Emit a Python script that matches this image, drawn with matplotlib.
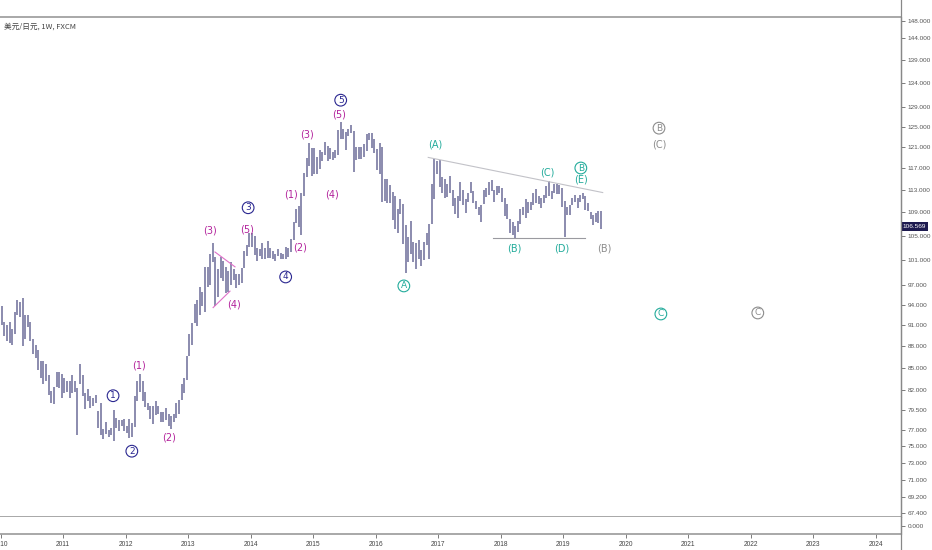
import numpy as np
import matplotlib
matplotlib.use("Agg")
import matplotlib.pyplot as plt
from matplotlib.ticker import FixedLocator, NullLocator, NullFormatter
from matplotlib.lines import Line2D
import matplotlib.transforms as mtransforms

# half-month bars (24 per year), lows / highs
lo_2010 = [91.0, 89.4, 88.8, 88.5, 88.1, 89.8, 92.5, 92.2, 88.0, 89.0, 90.8, 88.8,
           86.9, 86.3, 84.7, 83.6, 82.9, 83.2, 81.4, 80.4, 80.2, 82.5, 82.3, 81.0]
hi_2010 = [93.8, 91.5, 91.0, 91.5, 90.5, 93.0, 94.8, 94.5, 95.0, 92.5, 92.5, 91.5,
           89.0, 88.2, 87.5, 86.0, 85.9, 85.5, 84.0, 81.9, 82.5, 84.4, 84.5, 84.2]
lo_2011 = [81.6, 81.8, 81.0, 81.7, 81.8, 76.3, 82.8, 81.3, 79.6, 80.6, 79.7, 80.0,
           80.3, 77.2, 76.3, 75.9, 76.5, 76.1, 76.3, 75.6, 77.2, 76.8, 77.5, 76.8]
hi_2011 = [83.7, 83.3, 83.3, 84.0, 83.3, 82.3, 85.5, 84.0, 81.6, 82.2, 81.2, 81.0,
           81.4, 79.3, 80.3, 77.1, 77.9, 77.0, 77.2, 79.5, 78.4, 78.2, 78.2, 78.3]
lo_2012 = [76.6, 76.0, 76.1, 77.3, 80.6, 81.8, 80.6, 79.8, 79.5, 78.3, 77.7, 78.8,
           78.9, 77.9, 78.0, 78.2, 77.4, 77.1, 77.9, 78.4, 79.0, 80.7, 81.7, 83.4]
hi_2012 = [77.5, 78.3, 77.8, 81.2, 83.3, 84.2, 83.3, 81.8, 80.4, 80.0, 80.0, 80.6,
           80.0, 79.2, 79.2, 79.7, 79.0, 78.7, 78.9, 80.4, 80.8, 82.8, 83.6, 86.6]
lo_2013 = [86.6, 88.1, 91.3, 90.9, 92.5, 93.9, 92.9, 96.8, 97.0, 100.6, 93.8, 95.2,
           98.2, 97.6, 95.8, 96.0, 97.0, 97.8, 96.6, 97.0, 97.3, 99.7, 101.6, 103.2]
hi_2013 = [89.7, 91.3, 94.1, 94.8, 96.7, 96.0, 99.9, 99.9, 102.0, 103.7, 101.5, 99.5,
           101.5, 100.9, 99.9, 99.2, 100.6, 99.6, 98.7, 98.8, 99.7, 102.5, 103.4, 105.4]
lo_2014 = [103.2, 101.8, 100.8, 101.6, 101.2, 101.2, 101.4, 101.4, 101.1, 100.8, 101.7, 101.2,
           101.1, 101.1, 101.5, 102.3, 104.2, 107.1, 106.5, 105.2, 111.8, 115.4, 117.3, 115.6]
hi_2014 = [105.4, 104.9, 102.9, 102.8, 103.8, 103.0, 104.1, 102.9, 102.4, 102.0, 102.8, 102.2,
           102.0, 103.1, 103.0, 104.5, 107.4, 109.5, 110.1, 112.5, 116.1, 118.9, 121.8, 120.8]
lo_2015 = [115.8, 115.9, 116.9, 118.3, 119.4, 118.3, 118.7, 118.5, 118.9, 119.5, 122.5, 122.5,
           120.4, 123.1, 123.8, 116.2, 118.6, 118.7, 118.7, 119.1, 120.3, 122.3, 120.8, 119.9]
hi_2015 = [120.8, 119.0, 120.5, 120.0, 122.0, 121.2, 120.8, 120.0, 120.5, 124.4, 125.9, 124.5,
           124.0, 124.6, 125.3, 124.2, 121.0, 121.0, 121.0, 121.5, 123.6, 123.8, 123.7, 122.5]
lo_2016 = [116.7, 115.9, 110.9, 111.0, 110.7, 110.7, 107.6, 106.1, 105.5, 108.7, 103.6, 99.0,
           100.7, 102.0, 100.7, 99.5, 101.2, 100.1, 101.0, 103.5, 101.2, 107.0, 111.4, 115.9]
hi_2016 = [120.6, 121.7, 121.0, 114.9, 114.9, 113.8, 112.6, 111.9, 109.5, 111.4, 110.5, 106.8,
           104.7, 107.5, 104.0, 103.8, 104.3, 102.6, 104.0, 105.5, 107.0, 114.0, 118.7, 118.3]
lo_2017 = [113.5, 112.5, 111.6, 111.7, 112.4, 110.1, 108.7, 108.1, 111.0, 110.2, 108.8, 110.9,
           112.4, 110.6, 109.6, 108.6, 107.3, 110.5, 111.7, 112.0, 112.8, 110.8, 112.1, 112.4]
hi_2017 = [118.6, 115.4, 114.9, 114.0, 115.5, 113.0, 111.6, 111.8, 114.4, 113.0, 111.4, 112.5,
           114.5, 112.8, 111.0, 110.0, 110.2, 113.0, 113.4, 114.4, 114.7, 113.0, 113.7, 113.7]
lo_2018 = [110.9, 108.3, 107.9, 105.5, 105.2, 104.6, 105.7, 107.0, 108.6, 108.1, 108.8, 109.4,
           110.3, 110.6, 110.4, 109.8, 110.7, 111.6, 111.9, 111.4, 112.5, 112.3, 112.3, 110.0]
hi_2018 = [113.4, 111.5, 110.5, 107.9, 107.3, 106.6, 107.5, 109.5, 110.0, 111.4, 110.9, 110.8,
           112.5, 113.2, 111.8, 111.5, 112.1, 113.7, 114.6, 112.8, 114.1, 114.0, 113.9, 113.4]
lo_2019 = [104.7, 108.5, 108.5, 110.2, 110.8, 109.7, 110.8, 111.4, 109.4, 109.3, 107.8, 106.8,
           107.4, 107.2, 106.2]
hi_2019 = [111.0, 110.0, 110.2, 111.5, 112.1, 111.5, 112.0, 112.4, 111.8, 110.7, 109.0, 108.5,
           108.9, 109.3, 109.3]
last_close = 106.569

lows = lo_2010 + lo_2011 + lo_2012 + lo_2013 + lo_2014 + lo_2015 + lo_2016 + lo_2017 + lo_2018 + lo_2019
highs = hi_2010 + hi_2011 + hi_2012 + hi_2013 + hi_2014 + hi_2015 + hi_2016 + hi_2017 + hi_2018 + hi_2019
t = 2010 + (np.arange(len(lows)) + 0.5) / 24.0

yticks = [148, 144, 139, 134, 129, 125, 121, 117, 113, 109, 105, 101, 97, 94, 91, 88,
          85, 82, 79.5, 77, 75, 73, 71, 69.2, 67.4]
years = list(range(2010, 2025))

navy = "#2a2790"
mag = "#b3229c"
teal = "#22ab9b"
grey = "#8c8c8c"

# wave labels: (year, price, text, colour, circled)
waves = [
    (2011.80, 81.3, "1", navy, True), (2012.10, 74.4, "2", navy, True),
    (2013.96, 109.8, "3", navy, True), (2014.56, 98.3, "4", navy, True),
    (2015.44, 130.4, "5", navy, True),
    (2012.21, 85.3, "(1)", mag, False), (2012.69, 76.0, "(2)", mag, False),
    (2013.35, 105.8, "(3)", mag, False), (2013.73, 94.0, "(4)", mag, False),
    (2013.94, 106.1, "(5)", mag, False),
    (2014.64, 112.1, "(1)", mag, False), (2014.79, 103.0, "(2)", mag, False),
    (2014.90, 123.5, "(3)", mag, False), (2015.30, 112.2, "(4)", mag, False),
    (2015.41, 127.5, "(5)", mag, False),
    (2016.95, 121.4, "(A)", teal, False), (2016.45, 96.9, "A", teal, True),
    (2018.21, 102.8, "(B)", teal, False), (2018.74, 116.1, "(C)", teal, False),
    (2018.98, 102.8, "(D)", teal, False), (2019.28, 117.0, "B", teal, True),
    (2019.28, 114.8, "(E)", teal, False), (2020.56, 92.65, "C", teal, True),
    (2019.65, 102.8, "(B)", grey, False), (2020.53, 124.7, "B", grey, True),
    (2020.53, 121.4, "(C)", grey, False), (2022.11, 92.8, "C", grey, True),
]

W, H = 932, 550
fig = plt.figure(figsize=(W / 100, H / 100), dpi=100)
ax = fig.add_axes([0, 1 - 517 / H, 901 / W, 500 / H])
ax.vlines(t, lows, highs, color="#72729c", lw=1.15)

# triangle / channel lines
ax.plot([2013.43, 2013.75], [102.3, 99.9], color="#e070c8", lw=0.8)
ax.plot([2013.40, 2013.67], [93.6, 96.1], color="#e070c8", lw=0.8)
ax.plot([2016.84, 2019.63], [119.0, 112.5], color="#c2c2c8", lw=0.8)
ax.plot([2017.87, 2019.35], [104.6, 104.6], color="#9a9aa0", lw=0.8)

for x, y, s, c, circ in waves:
    if circ:
        ax.text(x, y, s, color=c, fontsize=6.5, ha="center", va="center",
                bbox=dict(boxstyle="circle,pad=0.15", fc="white", ec=c, lw=0.8))
    else:
        ax.text(x, y, s, color=c, fontsize=7, ha="center", va="center")

ax.set_yscale("log")
ax.set_ylim(66.97, 148.95)
ax.set_xlim(2009.992, 2024.40)
ax.yaxis.tick_right()
ax.yaxis.set_major_locator(FixedLocator(yticks))
ax.yaxis.set_minor_locator(NullLocator())
ax.yaxis.set_minor_formatter(NullFormatter())
ax.set_yticklabels(["%.3f" % v for v in yticks], family="Liberation Sans")
ax.tick_params(axis="y", length=3, width=0.6, color="#666", labelsize=4.6, labelcolor="#555", pad=1.5)
ax.tick_params(axis="x", bottom=False, labelbottom=False)
ax.spines["left"].set_visible(False)
ax.spines["top"].set_color("#9a9a9a")
ax.spines["top"].set_linewidth(1.2)
ax.spines["bottom"].set_color("#9a9a9a")
ax.spines["bottom"].set_linewidth(1.2)
ax.spines["right"].set_color("#888")
ax.spines["right"].set_linewidth(0.9)

tr = mtransforms.blended_transform_factory(ax.transAxes, ax.transData)
ax.text(1.002, last_close, "%.3f" % last_close, transform=tr, fontsize=4.6, color="white",
        va="center", ha="left", clip_on=False, family="Liberation Sans",
        bbox=dict(boxstyle="square,pad=0.3", fc="#1d1a4f", ec="none"))

ax2 = fig.add_axes([0, 1 - 534 / H, 901 / W, 17 / H], sharex=ax)
ax2.set_ylim(-1, 1)
ax2.yaxis.tick_right()
ax2.set_yticks([0])
ax2.set_yticklabels(["0.000"], family="Liberation Sans")
ax2.set_xticks(years)
ax2.set_xticklabels([str(y) for y in years], family="Liberation Sans")
ax2.tick_params(axis="y", length=3, width=0.6, color="#666", labelsize=4.6, labelcolor="#555", pad=1.5)
ax2.tick_params(axis="x", length=3, width=0.6, color="#666", labelsize=4.8, labelcolor="#444", pad=2)
ax2.spines["left"].set_visible(False)
ax2.spines["top"].set_visible(False)
ax2.spines["bottom"].set_color("#9a9a9a")
ax2.spines["bottom"].set_linewidth(1.2)
ax2.spines["right"].set_color("#888")
ax2.spines["right"].set_linewidth(0.9)

fig.add_artist(Line2D([901 / W, 901 / W], [0, 1], color="#888", lw=0.9, transform=fig.transFigure))
fig.text(4 / W, 1 - 27 / H, "美元/日元, 1W, FXCM", fontsize=5.5, color="#444", va="center",
         family=["Noto Sans CJK SC", "DejaVu Sans"])

fig.savefig("out.png", dpi=100)
